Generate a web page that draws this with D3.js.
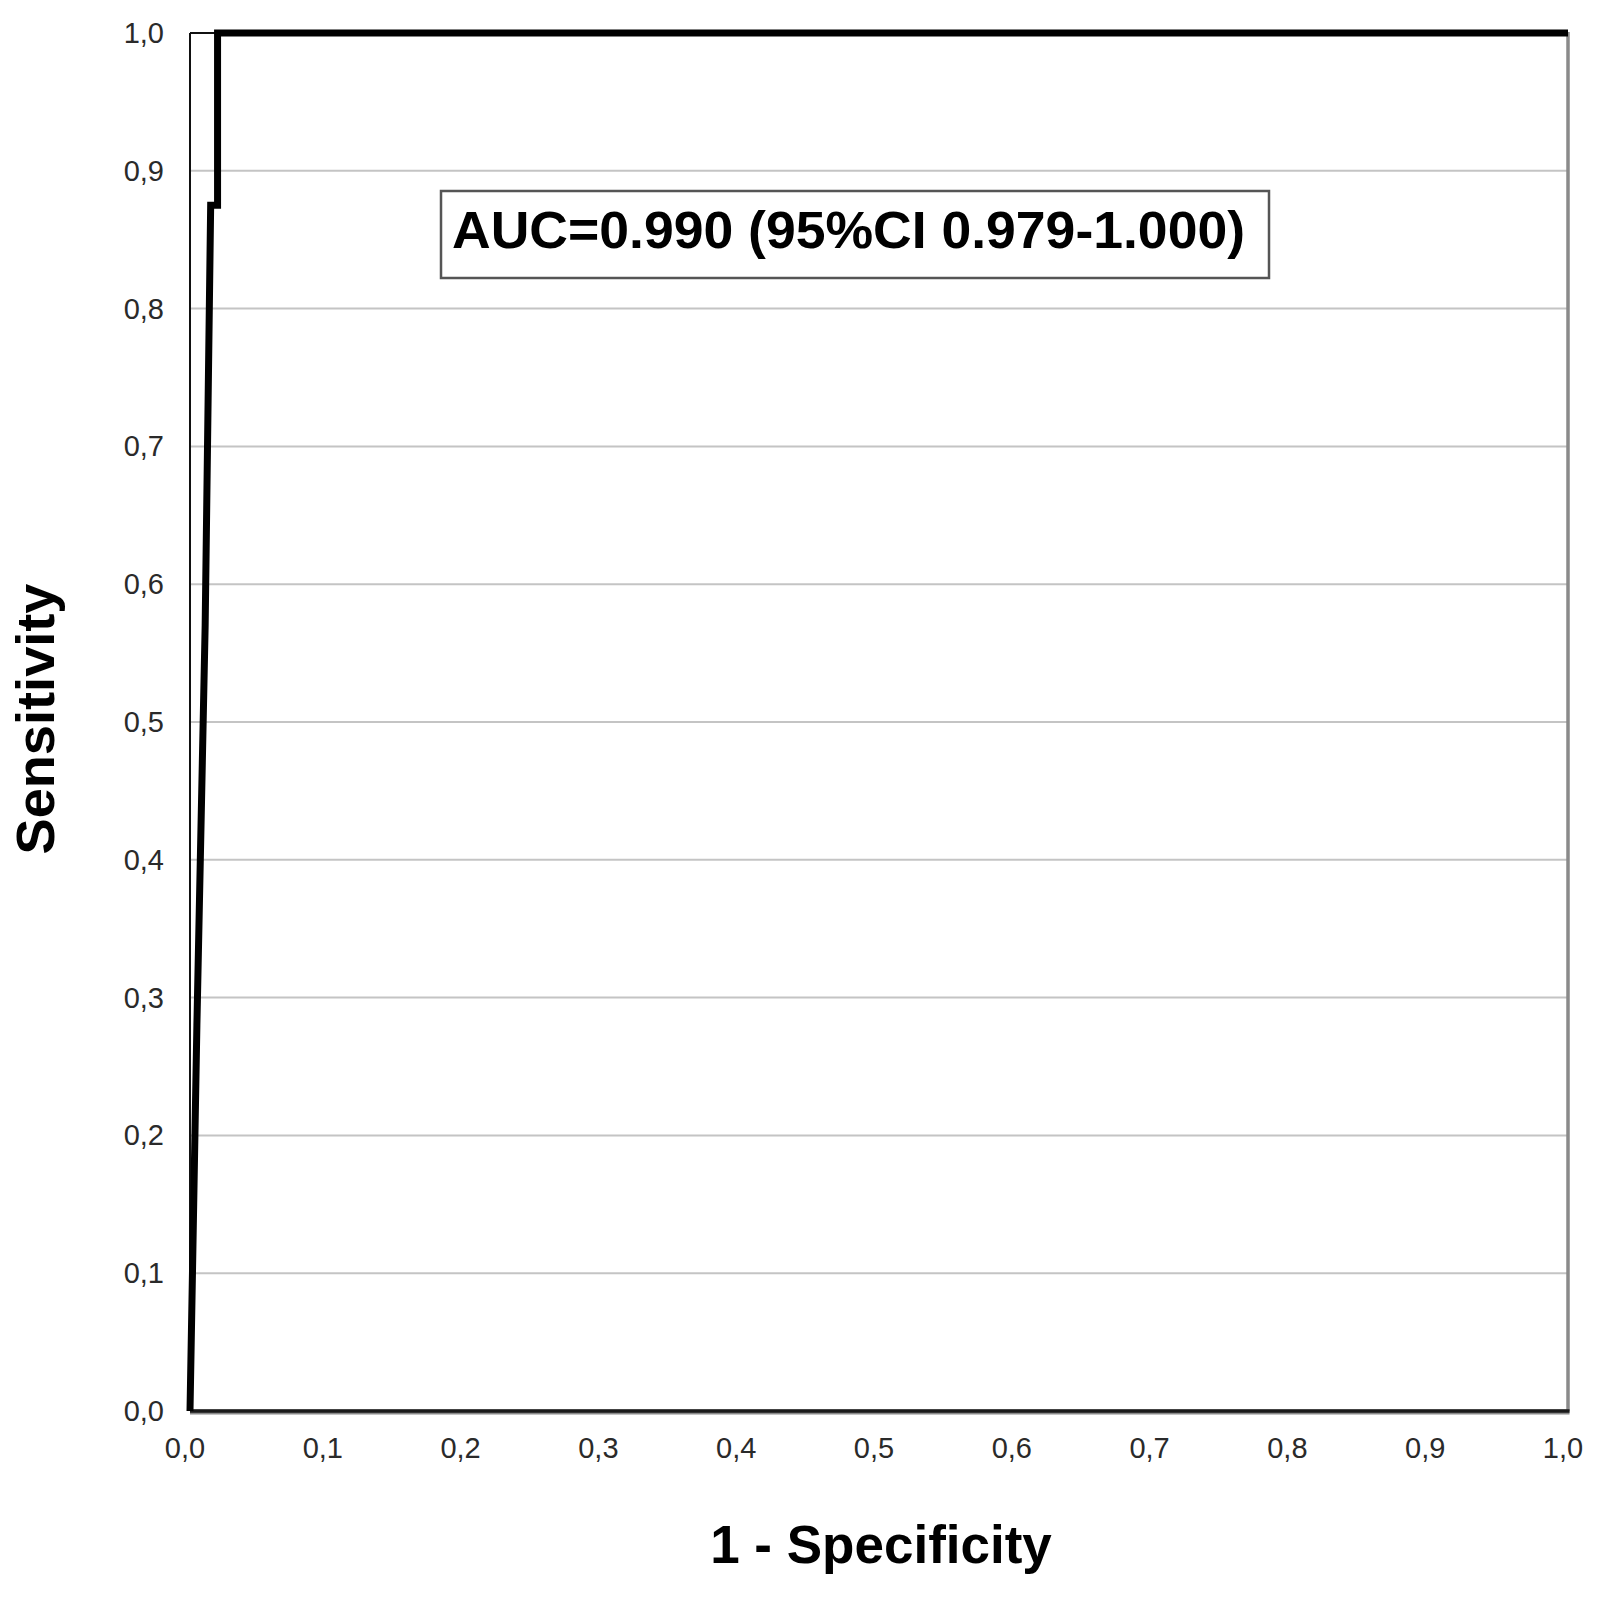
<!DOCTYPE html>
<html>
<head>
<meta charset="utf-8">
<script src="https://cdn.jsdelivr.net/npm/d3@7"></script>
<style>
  html, body { margin: 0; padding: 0; background: #fff; }
  svg { display: block; }
  text { font-family: "Liberation Sans", Arial, sans-serif; }
</style>
</head>
<body>
<svg id="chart" width="1603" height="1598"></svg>
<script>
// ROC curve points
const fpr = [0.000, 0.005, 0.011, 0.015, 0.020, 0.020, 1.000];
const tpr = [0.000, 0.280, 0.570, 0.875, 0.875, 1.000, 1.000];
const xTicks = [0, 0.1, 0.2, 0.3, 0.4, 0.5, 0.6, 0.7, 0.8, 0.9, 1.0];
const yTicks = [0, 0.1, 0.2, 0.3, 0.4, 0.5, 0.6, 0.7, 0.8, 0.9, 1.0];
const aucLabel = "AUC=0.990 (95%CI 0.979-1.000)";
const xTitle = "1 - Specificity";
const yTitle = "Sensitivity";

(function () {
const svg = d3.select("#chart");
const pL = 190, pR = 1568, pT = 33, pB = 1411;

const x = d3.scaleLinear().domain([0, 1]).range([pL, pR]);
const y = d3.scaleLinear().domain([0, 1]).range([pB, pT]);
const locale = d3.formatLocale({decimal: ",", thousands: ".", grouping: [3], currency: ["", ""]});
const fmt = locale.format(".1f");

// gridlines
svg.append("g").selectAll("line")
  .data(yTicks.filter(d => d > 0 && d < 1))
  .join("line")
  .attr("x1", x(0)).attr("x2", x(1))
  .attr("y1", d => y(d)).attr("y2", d => y(d))
  .attr("stroke", "#c4c4c4").attr("stroke-width", 2);

// frame
svg.append("line").attr("x1", x(0)).attr("x2", x(1)).attr("y1", y(1)).attr("y2", y(1))
  .attr("stroke", "#111").attr("stroke-width", 2);
svg.append("line").attr("x1", x(0)).attr("x2", x(0)).attr("y1", y(1)).attr("y2", y(0))
  .attr("stroke", "#111").attr("stroke-width", 2);
svg.append("line").attr("x1", x(1)).attr("x2", x(1)).attr("y1", y(1) - 1).attr("y2", y(0))
  .attr("stroke", "#8a8a8a").attr("stroke-width", 3.5);
svg.append("line").attr("x1", x(0)).attr("x2", x(1) + 1.5).attr("y1", y(0) + 1).attr("y2", y(0) + 1)
  .attr("stroke", "#8a8a8a").attr("stroke-width", 5);
svg.append("line").attr("x1", x(0)).attr("x2", x(1) + 1.5).attr("y1", y(0)).attr("y2", y(0))
  .attr("stroke", "#1a1a1a").attr("stroke-width", 3.5);

// y tick labels
svg.append("g").selectAll("text")
  .data(yTicks).join("text")
  .attr("x", 164).attr("y", d => y(d) + 10)
  .attr("text-anchor", "end")
  .attr("font-size", 29).attr("fill", "#2a2a2a")
  .text(d => fmt(d));

// x tick labels
svg.append("g").selectAll("text")
  .data(xTicks).join("text")
  .attr("x", d => x(d) - 5).attr("y", 1458)
  .attr("text-anchor", "middle")
  .attr("font-size", 29).attr("fill", "#2a2a2a")
  .text(d => fmt(d));

// ROC curve
const pts = fpr.map((v, i) => [v, tpr[i]]);
svg.append("path")
  .datum(pts)
  .attr("d", d3.line().x(d => x(d[0])).y(d => y(d[1])))
  .attr("fill", "none").attr("stroke", "#000").attr("stroke-width", 7)
  .attr("stroke-linejoin", "miter");

// AUC box
svg.append("rect")
  .attr("x", 441).attr("y", 191).attr("width", 828).attr("height", 87)
  .attr("fill", "#fff").attr("stroke", "#555").attr("stroke-width", 2.5);
svg.append("text")
  .attr("x", 452).attr("y", 248)
  .attr("font-size", 51).attr("font-weight", "bold").attr("fill", "#000")
  .attr("textLength", 793).attr("lengthAdjust", "spacingAndGlyphs")
  .text(aucLabel);

// axis titles
svg.append("text")
  .attr("x", (pL + pR) / 2 + 2).attr("y", 1563)
  .attr("text-anchor", "middle")
  .attr("font-size", 53).attr("font-weight", "bold").attr("fill", "#000")
  .text(xTitle);
svg.append("text")
  .attr("transform", `translate(54, ${(pT + pB) / 2 - 3}) rotate(-90)`)
  .attr("text-anchor", "middle")
  .attr("font-size", 53).attr("font-weight", "bold").attr("fill", "#000")
  .attr("textLength", 271).attr("lengthAdjust", "spacingAndGlyphs")
  .text(yTitle);
})();
</script>
</body>
</html>
